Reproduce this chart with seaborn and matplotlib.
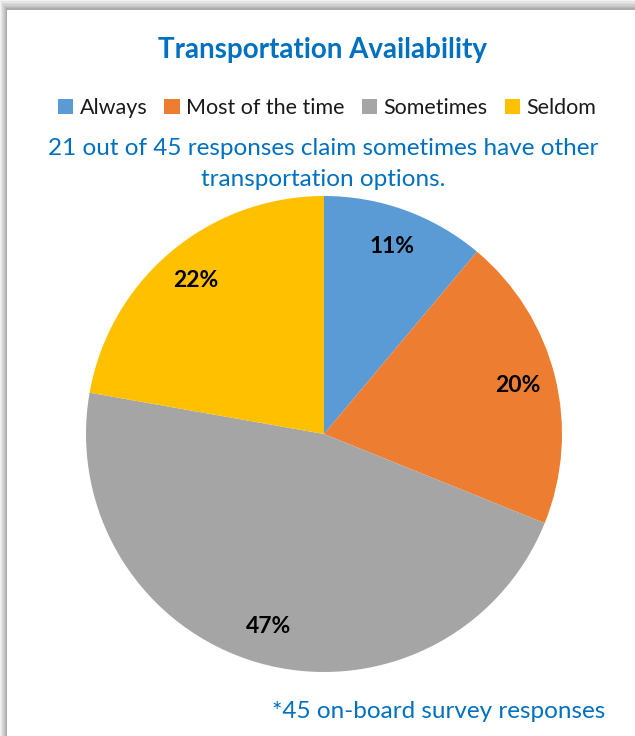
import matplotlib
matplotlib.use("Agg")
import matplotlib.pyplot as plt
from matplotlib.patches import Rectangle, Patch
import seaborn as sns

# Survey answers (45 on-board responses)
categories = ["Always", "Most of the time", "Sometimes", "Seldom"]
counts = [5, 9, 21, 10]
slice_colors = ["#5B9BD5", "#ED7D31", "#A5A5A5", "#FFC000"]

title = "Transportation Availability"
subtitle = "21 out of 45 responses claim sometimes have other\ntransportation options."
footnote = "*45 on-board survey responses"

sns.set_theme(style="white")
plt.rcParams["font.family"] = ["Lato", "DejaVu Sans"]

W, H = 635, 736
fig = plt.figure(figsize=(W / 100, H / 100), dpi=100)
fig.patch.set_facecolor("white")

# shadow frame along top and left edges
shades = ["#f2f2f2", "#e6e6e6", "#dadada", "#cfcfcf", "#c4c4c4", "#b9b9b9", "#aaaaaa"]
for i, c in enumerate(shades):
    fig.patches.append(Rectangle((i / W, 0), 1, 1 - (i * 1.4) / H,
                                 transform=fig.transFigure, facecolor=c,
                                 edgecolor="none", zorder=-10))
fig.patches.append(Rectangle((7 / W, 0), 1, 1 - 10 / H, transform=fig.transFigure,
                             facecolor="white", edgecolor="none", zorder=-9))


def fx(px):
    return px / W


def fy(py):
    return 1 - py / H


# pie axes: centre (324, 434) px, radius 238 px
cx, cy, r = 324, 434, 238
ax = fig.add_axes([fx(cx - r), fy(cy + r), 2 * r / W, 2 * r / H], zorder=5)
ax.set_facecolor("none")
wedges, texts, autotexts = ax.pie(
    counts, colors=slice_colors, startangle=90, counterclock=False,
    autopct=lambda p: f"{p:.0f}%", pctdistance=0.84, radius=1,
    wedgeprops=dict(linewidth=0),
    textprops=dict(fontsize=16.5, fontweight="bold", color="black"),
)
ax.set_xlim(-1, 1)
ax.set_ylim(-1, 1)
ax.set_aspect("equal")
ax.axis("off")

fig.text(fx(323), fy(50), title, ha="center", va="center",
         fontsize=20, fontweight="bold", color="#0070C0")

handles = [Patch(facecolor=c, edgecolor="none") for c in slice_colors]
fig.legend(handles, categories, loc="center", bbox_to_anchor=(fx(327), fy(108)),
           ncol=4, frameon=False, fontsize=15.5, handlelength=0.7, handleheight=0.7,
           handletextpad=0.3, columnspacing=0.8, labelcolor="#1a1a1a")

fig.text(fx(323), fy(164), subtitle, ha="center", va="center",
         fontsize=17.5, color="#0070C0", linespacing=1.55)

fig.text(fx(605), fy(712), footnote, ha="right", va="center",
         fontsize=17.5, color="#0070C0")

fig.savefig("out.png", dpi=100)
